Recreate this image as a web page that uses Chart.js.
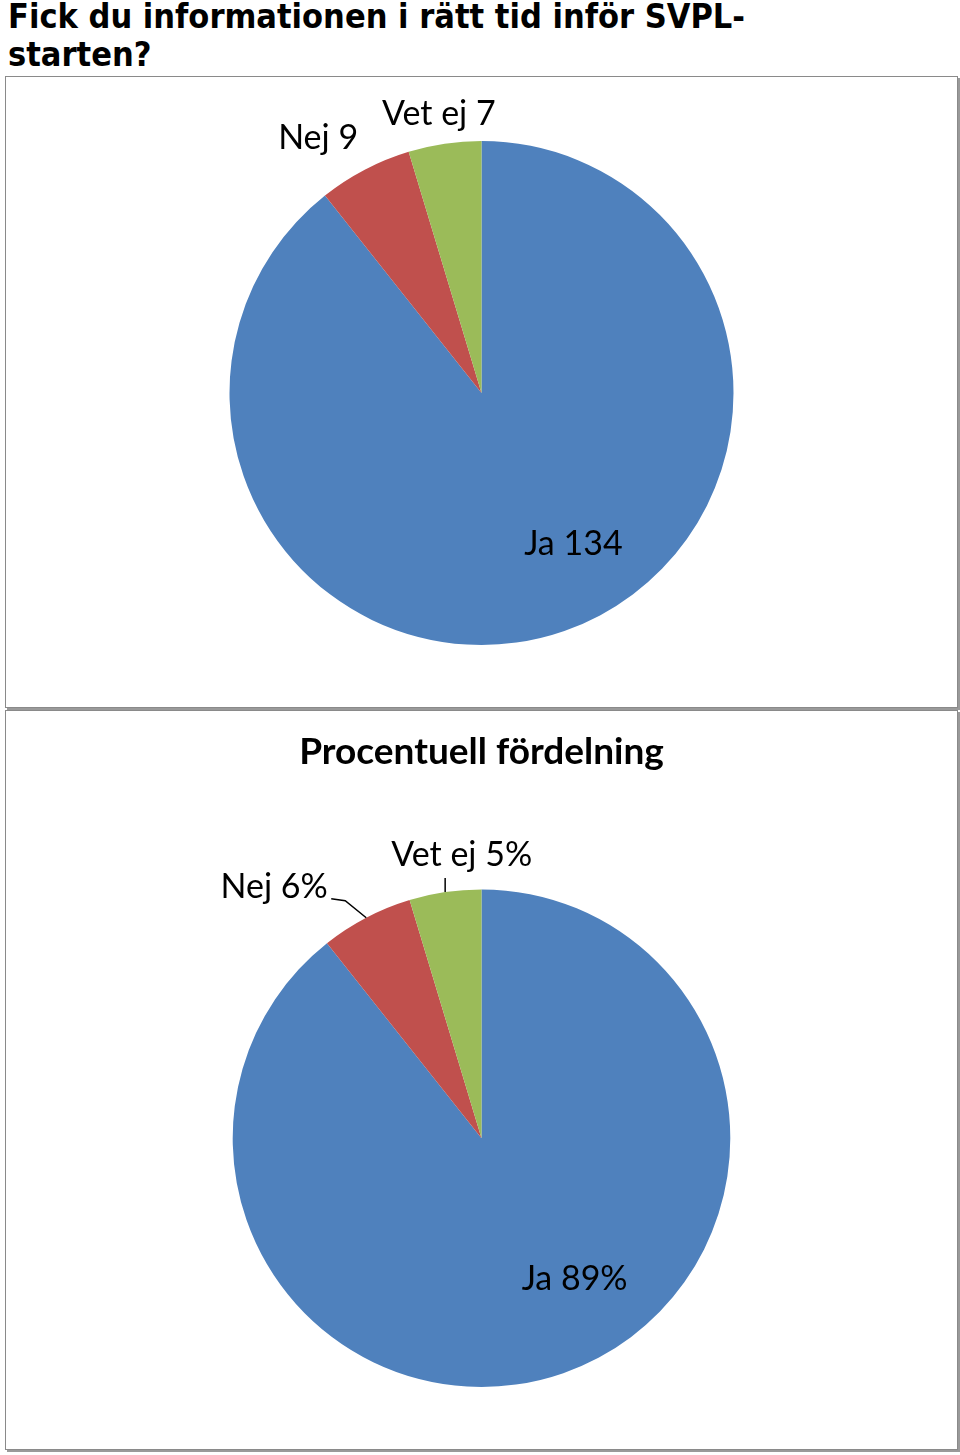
<!DOCTYPE html>
<html>
<head>
<meta charset="utf-8">
<script src="https://cdn.jsdelivr.net/npm/chart.js"></script>
<style>
  html, body { margin: 0; padding: 0; background: #fff; }
  body { width: 960px; height: 1455px; position: relative; overflow: hidden; }
  .page-title { position: absolute; left: 8px; top: -3px; width: 800px; font-family: "DejaVu Sans Condensed", "DejaVu Sans", sans-serif; font-weight: bold; font-size: 34px; line-height: 38px; color: #000; }
  .box { position: absolute; left: 5px; width: 951px; border: 1px solid #8a8a8a; box-shadow: 2px 2px 0 #9a9a9a; background: #fff; }
  #box1 { top: 76px; height: 630px; }
  #box2 { top: 710px; height: 738px; }
  canvas { display: block; }
</style>
</head>
<body>
<div class="page-title">Fick du informationen i rätt tid inför SVPL-<br>starten?</div>
<div class="box" id="box1"><canvas id="c1"></canvas></div>
<div class="box" id="box2"><canvas id="c2"></canvas></div>
<script>
const categories = ['Ja', 'Nej', 'Vet ej'];
const counts = [134, 9, 7];
const percentLabels = ['89%', '6%', '5%'];
const colors = ['#4F81BD', '#C0504D', '#9BBB59'];

const labelFont = '34px Lato, "Open Sans", sans-serif';

// label placement: angle (deg, canvas coords) and distance as fraction of radius
const place1 = [[58.6, 0.70], [-122.7, 1.20], [-98.7, 1.12]];
const place2 = [[56.6, 0.68], [-129.5, 1.31], [-94, 1.14]];

// leader lines (second chart): offsets from the slice edge midpoint
const leaders2 = [null, [[-21, -17], [-35, -19]], [[0, -14]]];

function labelPlugin(texts, place, leaders) {
  return {
    id: 'sliceLabels',
    afterDraw(chart) {
      const ctx = chart.ctx;
      const arcs = chart.getDatasetMeta(0).data;
      ctx.save();
      ctx.font = labelFont;
      ctx.fillStyle = '#000';
      ctx.textAlign = 'center';
      ctx.textBaseline = 'middle';
      arcs.forEach((arc, i) => {
        const r = arc.outerRadius;
        const a = place[i][0] * Math.PI / 180;
        const x = arc.x + Math.cos(a) * r * place[i][1];
        const y = arc.y + Math.sin(a) * r * place[i][1];
        ctx.fillText(texts[i], x, y);

        if (leaders && leaders[i]) {
          const mid = (arc.startAngle + arc.endAngle) / 2;
          const ex = arc.x + Math.cos(mid) * r;
          const ey = arc.y + Math.sin(mid) * r;
          ctx.strokeStyle = '#000';
          ctx.lineWidth = 1.5;
          ctx.beginPath();
          ctx.moveTo(ex, ey);
          leaders[i].forEach(p => ctx.lineTo(ex + p[0], ey + p[1]));
          ctx.stroke();
        }
      });
      ctx.restore();
    }
  };
}

function makePie(id, w, h, texts, place, leaders, opts) {
  const canvas = document.getElementById(id);
  canvas.width = w; canvas.height = h;
  canvas.style.width = w + 'px'; canvas.style.height = h + 'px';
  return new Chart(canvas, {
    type: 'pie',
    data: {
      labels: categories,
      datasets: [{ data: counts, backgroundColor: colors, borderWidth: 0 }]
    },
    options: {
      responsive: false,
      animation: false,
      devicePixelRatio: 1,
      layout: { padding: opts.padding },
      plugins: { legend: { display: false }, tooltip: { enabled: false }, title: opts.title }
    },
    plugins: [labelPlugin(texts, place, leaders)]
  });
}

const texts1 = categories.map((c, i) => c + ' ' + counts[i]);
const texts2 = categories.map((c, i) => c + ' ' + percentLabels[i]);

makePie('c1', 951, 630, texts1, place1, null, {
  title: { display: false },
  padding: { top: 64, bottom: 62, left: 0, right: 0 }
});

makePie('c2', 951, 738, texts2, place2, leaders2, {
  title: {
    display: true,
    text: 'Procentuell fördelning',
    color: '#000',
    font: { family: 'Lato, "Open Sans", sans-serif', weight: 'bold', size: 37, lineHeight: 1.2 },
    padding: { top: 19, bottom: 115 }
  },
  padding: { top: 0, bottom: 62, left: 0, right: 0 }
});
</script>
</body>
</html>
